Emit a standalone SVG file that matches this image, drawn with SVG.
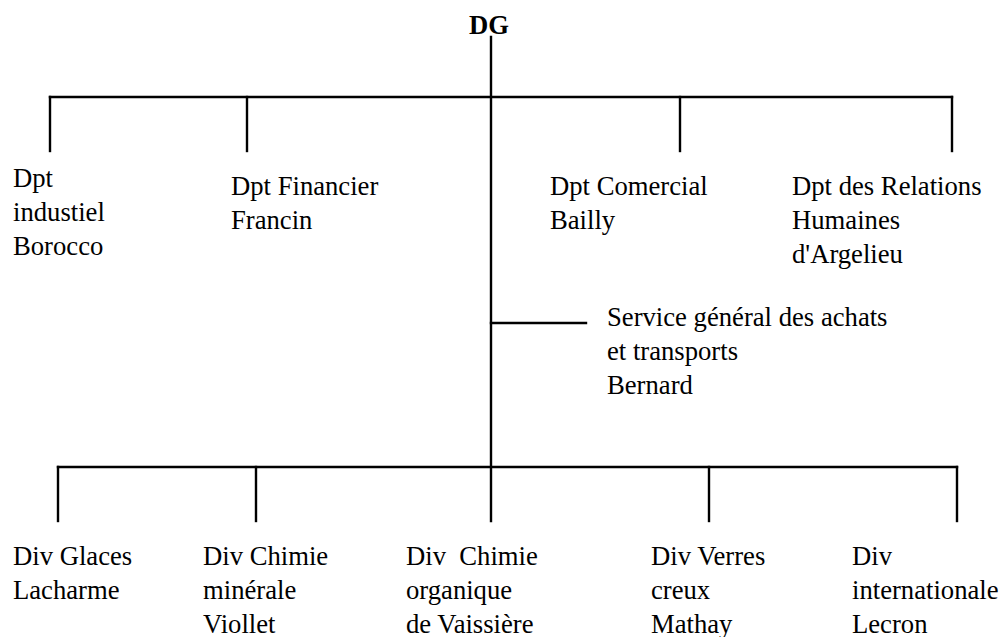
<svg xmlns="http://www.w3.org/2000/svg" width="1002" height="637" viewBox="0 0 1002 637">
<style>
text{font-family:"Liberation Serif","Times New Roman",serif;font-size:26.67px;fill:#000;white-space:pre}
.b{font-weight:bold}
.c line{stroke:#000;stroke-width:2.4;stroke-linecap:square}
</style>
<rect width="1002" height="637" fill="#fff"/>
<g class="c" id="connectors">
<line x1="491" y1="37" x2="491" y2="521"/>
<line x1="50" y1="97" x2="952" y2="97"/>
<line x1="50" y1="97" x2="50" y2="151"/>
<line x1="247" y1="97" x2="247" y2="151"/>
<line x1="680" y1="97" x2="680" y2="151"/>
<line x1="952" y1="97" x2="952" y2="151"/>
<line x1="491" y1="323" x2="586" y2="323"/>
<line x1="58" y1="467" x2="957" y2="467"/>
<line x1="58" y1="467" x2="58" y2="521"/>
<line x1="256" y1="467" x2="256" y2="521"/>
<line x1="709" y1="467" x2="709" y2="521"/>
<line x1="957" y1="467" x2="957" y2="521"/>
</g>
<g id="dg"><text class="b" x="489" y="34" text-anchor="middle">DG</text></g>
<g id="dpt-industriel"><text x="13" y="187">Dpt</text><text x="13" y="221">industiel</text><text x="13" y="255">Borocco</text></g>
<g id="dpt-financier"><text x="231" y="195">Dpt Financier</text><text x="231" y="229">Francin</text></g>
<g id="dpt-commercial"><text x="550" y="195">Dpt Comercial</text><text x="550" y="229">Bailly</text></g>
<g id="dpt-rh"><text x="792" y="195">Dpt des Relations</text><text x="792" y="229">Humaines</text><text x="792" y="263">d'Argelieu</text></g>
<g id="service-achats"><text x="607" y="326">Service général des achats</text><text x="607" y="360">et transports</text><text x="607" y="394">Bernard</text></g>
<g id="div-glaces"><text x="13" y="565">Div Glaces</text><text x="13" y="599">Lacharme</text></g>
<g id="div-chimie-minerale"><text x="203" y="565">Div Chimie</text><text x="203" y="599">minérale</text><text x="203" y="633">Viollet</text></g>
<g id="div-chimie-organique"><text x="406" y="565">Div  Chimie</text><text x="406" y="599">organique</text><text x="406" y="633">de Vaissière</text></g>
<g id="div-verres"><text x="651" y="565">Div Verres</text><text x="651" y="599">creux</text><text x="651" y="633">Mathay</text></g>
<g id="div-internationale"><text x="852" y="565">Div</text><text x="852" y="599">internationale</text><text x="852" y="633">Lecron</text></g>
</svg>
